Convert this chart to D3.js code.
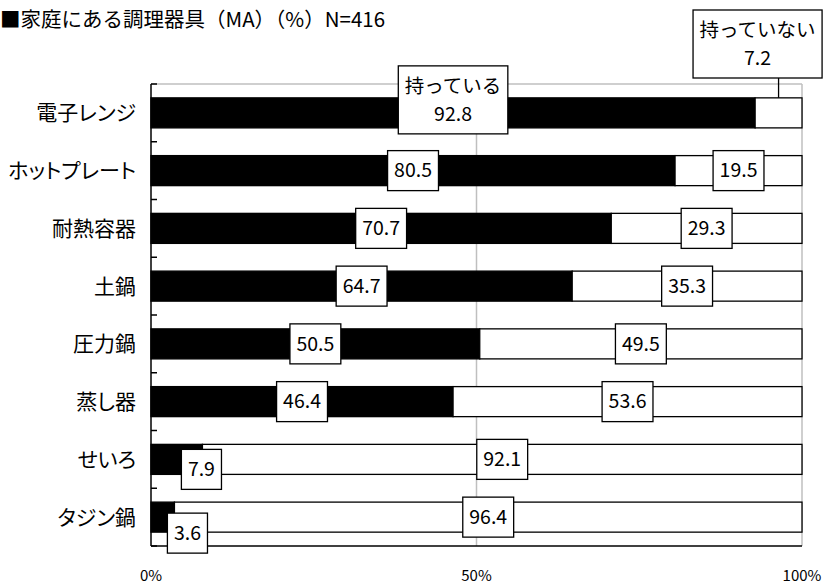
<!DOCTYPE html>
<html>
<head>
<meta charset="utf-8">
<script src="https://cdn.jsdelivr.net/npm/d3@7"></script>
<style>
  html, body { margin: 0; padding: 0; background: #fff; }
  svg text { font-family: "Noto Sans CJK JP", "Noto Sans", sans-serif; fill: #000; }
  .prop { font-feature-settings: "palt"; }
</style>
</head>
<body>
<svg id="chart" width="824" height="585"></svg>
<script>
// Household cooking appliances (multiple answer, %), N=416
const titleText = "■家庭にある調理器具（MA）（%）N=416";
const categories = ["電子レンジ", "ホットプレート", "耐熱容器", "土鍋", "圧力鍋", "蒸し器", "せいろ", "タジン鍋"];
const seriesNames = ["持っている", "持っていない"];
const owned = [92.8, 80.5, 70.7, 64.7, 50.5, 46.4, 7.9, 3.6];
const notOwned = [7.2, 19.5, 29.3, 35.3, 49.5, 53.6, 92.1, 96.4];
const xTicks = [0, 50, 100];

const svg = d3.select("#chart");
const margin = { left: 151, right: 22, top: 84, bottom: 39 };
const W = 824, H = 585;
const x0 = margin.left, x1 = W - margin.right;
const y0 = margin.top, y1 = H - margin.bottom;

const x = d3.scaleLinear().domain([0, 100]).range([x0, x1]);
const y = d3.scaleBand().domain(categories).range([y0, y1]).paddingInner(0.48).paddingOuter(0.24);
const step = y.step();

// title
svg.append("text").attr("x", 0).attr("y", 27).attr("font-size", 20.5).text(titleText);

// plot border (top / right) and gridlines
const grey = "#bfbfbf";
svg.append("line").attr("x1", x0).attr("x2", x1).attr("y1", y0).attr("y2", y0).attr("stroke", grey).attr("stroke-width", 1.5);
svg.append("g").selectAll("line").data(xTicks.filter(d => d > 0)).join("line")
  .attr("x1", d => x(d)).attr("x2", d => x(d)).attr("y1", y0).attr("y2", y1)
  .attr("stroke", grey).attr("stroke-width", 1.5);

// stacked rows
const rows = categories.map((c, i) => ({ cat: c, has: owned[i], hasNot: notOwned[i] }));
const gBars = svg.append("g");
gBars.selectAll("rect.has").data(rows).join("rect").attr("class", "has")
  .attr("x", x(0)).attr("y", d => y(d.cat)).attr("width", d => x(d.has) - x(0)).attr("height", y.bandwidth())
  .attr("fill", "#000").attr("stroke", "#000").attr("stroke-width", 1.3);
gBars.selectAll("rect.not").data(rows).join("rect").attr("class", "not")
  .attr("x", d => x(d.has)).attr("y", d => y(d.cat)).attr("width", d => x(d.has + d.hasNot) - x(d.has)).attr("height", y.bandwidth())
  .attr("fill", "#fff").attr("stroke", "#000").attr("stroke-width", 1.3);

// category axis (ticks point into the plot)
const yAxis = svg.append("g");
yAxis.append("line").attr("x1", x0).attr("x2", x0).attr("y1", y0).attr("y2", y1).attr("stroke", "#000").attr("stroke-width", 1.5);
yAxis.selectAll("line.tick").data(d3.range(categories.length + 1)).join("line").attr("class", "tick")
  .attr("x1", x0).attr("x2", x0 + 6).attr("y1", i => y0 + i * step).attr("y2", i => y0 + i * step)
  .attr("stroke", "#000").attr("stroke-width", 1.5);
yAxis.selectAll("text").data(categories).join("text").attr("class", "prop")
  .attr("x", 136).attr("y", d => y(d) + y.bandwidth() / 2).attr("dy", "0.36em")
  .attr("text-anchor", "end").attr("font-size", 21).text(d => d);

// value axis
svg.append("line").attr("x1", x0).attr("x2", x1).attr("y1", y1).attr("y2", y1).attr("stroke", "#000").attr("stroke-width", 1.5);
svg.append("g").selectAll("text").data(xTicks).join("text")
  .attr("x", d => x(d)).attr("y", 581).attr("text-anchor", "middle").attr("font-size", 15)
  .attr("font-family", "'Liberation Sans', Arial, sans-serif").text(d => d + "%");

// data label boxes
const gLab = svg.append("g");
function labelBox(cx, cy, lines, withLeader) {
  const g = gLab.append("g");
  const lineH = 28, fs = 19.5;
  const texts = lines.map((t, i) => g.append("text")
    .attr("x", cx).attr("y", cy + (i - (lines.length - 1) / 2) * lineH).attr("dy", "0.35em")
    .attr("text-anchor", "middle").attr("font-size", fs).text(t));
  const w = d3.max(texts, t => t.node().getComputedTextLength()) + 13;
  const h = lines.length === 1 ? 40 : lines.length * lineH + 12;
  g.insert("rect", "text").attr("x", cx - w / 2).attr("y", cy - h / 2).attr("width", w).attr("height", h)
    .attr("fill", "#fff").attr("stroke", "#000").attr("stroke-width", 1.3);
  if (withLeader) {
    g.insert("line", "rect").attr("x1", withLeader.x).attr("x2", withLeader.x)
      .attr("y1", cy + h / 2).attr("y2", withLeader.y).attr("stroke", "#000").attr("stroke-width", 1.3);
  }
  return g;
}

// labels on small segments sit just past the segment end, dropped below the bar
const smallOffset = { "せいろ": [-1, 10], "タジン鍋": [13, 16] };

rows.forEach((d, i) => {
  const cy = y(d.cat) + y.bandwidth() / 2;
  const hasCx = (x(0) + x(d.has)) / 2;
  const notCx = (x(d.has) + x(d.has + d.hasNot)) / 2;
  if (i === 0) {
    labelBox(hasCx, cy - 13, [seriesNames[0], d.has.toFixed(1)]);
    labelBox(notCx - 21, y0 - 40, [seriesNames[1], d.hasNot.toFixed(1)], { x: notCx, y: y(d.cat) });
  } else {
    if (smallOffset[d.cat]) {
      const [dx, dy] = smallOffset[d.cat];
      labelBox(x(d.has) + dx, cy + dy, [d.has.toFixed(1)]);
    } else {
      labelBox(hasCx, cy, [d.has.toFixed(1)]);
    }
    labelBox(notCx, cy, [d.hasNot.toFixed(1)]);
  }
});
</script>
</body>
</html>
